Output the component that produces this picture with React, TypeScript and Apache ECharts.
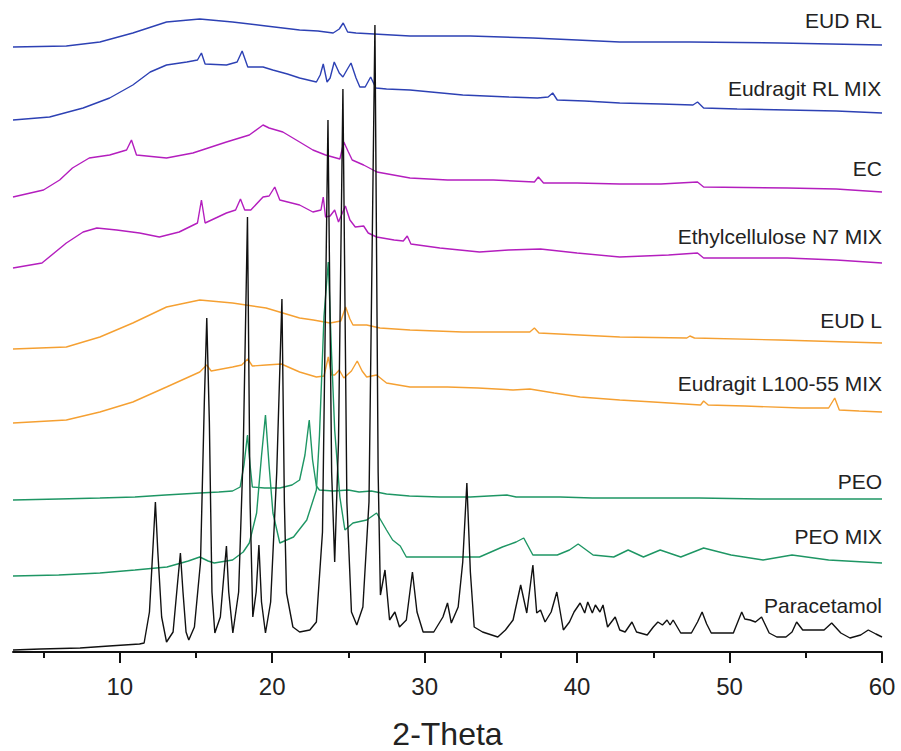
import React, { useEffect, useRef } from "react";
import * as echarts from "echarts";

// 2-Theta tick labels
const majorTicks = [10, 20, 30, 40, 50, 60];
const minorTicks = [5, 15, 25, 35, 45, 55];

const seriesNames = [
  "EUD RL",
  "Eudragit RL MIX",
  "EC",
  "Ethylcellulose N7 MIX",
  "EUD L",
  "Eudragit L100-55 MIX",
  "PEO",
  "PEO MIX",
  "Paracetamol",
];

// vertical stacking offsets (a.u.)
const offsets = [605, 532, 455, 384, 303, 229, 152, 76, 0];

// [2-theta, intensity above offset]
const eudRL = [[3,0],[6.5,1],[8.7,5],[10.86,14],[13.07,25],[15.25,28],[17.4,25],[19.6,21],[21.8,17],[23.0,16],[24.0,14],[24.4,18],[24.66,24],[24.95,15],[25.5,14],[29.04,11],[33,11],[37.1,9],[40,7],[42.8,5],[47.4,5],[53.3,4],[60,2]];

const eudragitRLMix = [[3,0],[5.4,3],[7.6,12],[9.34,22],[10.86,35],[12.0,48],[13.07,55],[14.4,58],[15.1,60],[15.36,67],[15.6,56],[17.0,55],[17.7,58],[18.03,69],[18.4,53],[19.4,53],[20.04,50],[21.0,46],[21.8,42],[22.9,38],[23.15,45],[23.35,56],[23.6,38],[23.8,42],[24.07,58],[24.4,47],[24.64,43],[24.9,50],[25.17,57],[25.5,42],[25.75,33],[26.1,33],[26.46,43],[26.8,32],[27.5,31],[29.04,30],[32.5,25],[35.5,23],[37.4,22],[38.1,23],[38.4,27],[38.7,20],[40.5,19],[42.8,17],[45.5,16],[47.6,15],[47.9,18],[48.3,12],[50.5,11],[53.8,10],[57,9],[60,7]];

const ec = [[3,0],[5,7],[6.06,17],[6.9,29],[8.0,39],[9.34,42],[10.45,47],[10.77,57],[11.1,42],[13.07,39],[14.8,44],[17.0,55],[18.5,62],[19.4,72],[19.8,69],[20.7,65],[21.8,55],[22.67,47],[23.5,42],[24.44,38],[24.7,55],[25.0,45],[25.25,37],[26.0,32],[26.87,25],[29.04,19],[31.5,17],[34.5,17],[37.2,15],[37.46,20],[37.8,14],[40,14],[42.8,13],[45.5,13],[47.9,15],[48.3,10],[53.8,9],[57,8],[60,5]];

const ethylcelluloseMix = [[3,0],[4.9,5],[6.5,25],[7.6,36],[8.5,40],[9.8,38],[11.3,35],[12.6,31],[13.9,36],[15.1,45],[15.36,68],[15.6,45],[17.0,55],[17.6,58],[17.92,69],[18.2,58],[18.6,58],[19.4,71],[19.8,72],[20.17,81],[20.5,68],[21.8,63],[22.67,56],[23.2,58],[23.35,71],[23.5,51],[23.8,52],[24.1,58],[24.35,46],[24.8,62],[25.1,48],[25.45,41],[26.0,42],[26.3,35],[26.85,31],[28.0,28],[28.6,27],[28.86,32],[29.1,24],[31,20],[33.6,16],[35.5,18],[37.6,19],[40,15],[42.8,11],[46,13],[47.9,15],[48.3,10],[50.5,10],[53.8,10],[57,8],[60,5]];

const eudL = [[3,0],[6.5,2],[8.7,12],[10.86,26],[13.07,42],[15.25,49],[17.4,46],[19.6,41],[21.8,31],[22.7,29],[23.8,26],[24.5,28],[24.82,42],[25.1,30],[25.3,24],[26.2,24],[27.07,21],[29.04,19],[32.5,17],[36.9,17],[37.2,21],[37.5,16],[42.8,12],[47.2,11],[47.4,13],[47.7,11],[53.3,9],[60,6]];

const eudragitLMix = [[3,0],[6.5,3],[8.7,11],[10.86,21],[13.07,36],[15.25,51],[15.7,58],[16.0,52],[17.4,56],[18.0,58],[18.4,64],[18.7,57],[19.6,58],[20.6,59],[21.8,51],[22.9,46],[23.4,47],[23.68,66],[23.9,48],[24.1,48],[24.4,53],[24.7,45],[25.2,52],[25.58,62],[25.9,52],[26.2,46],[26.85,48],[27.5,40],[29.04,36],[31.5,36],[33.5,35],[35.8,33],[36.9,34],[38.5,30],[40.2,26],[42.8,23],[45,21],[48.1,18],[48.3,22],[48.6,18],[51,17],[54.7,15],[56.5,15],[56.9,25],[57.2,13],[58.5,12],[60,11]];

const peo = [[3,0],[6,1],[8.7,2],[11,3],[13,5],[15.25,7],[16.5,8],[17.4,9],[17.9,13],[18.15,35],[18.38,65],[18.55,35],[18.7,13],[19.5,12],[20.5,12],[21.3,15],[21.8,20],[22.15,45],[22.43,80],[22.65,40],[22.9,14],[23.1,10],[24,9],[25.0,10],[25.7,8],[26.5,9],[27.5,6],[29,4],[31,3],[33,3],[35.4,5],[36,3],[38.9,3],[41,2],[45,2],[48,2],[52,1],[56,1],[60,1]];

const peoMix = [[3,0],[6,1],[8.7,3],[11,6],[13.1,9],[14.5,15],[15.25,19],[15.8,15],[16.2,13],[17.4,16],[18.1,24],[18.5,33],[18.98,63],[19.3,120],[19.56,161],[19.8,110],[20.05,63],[20.5,33],[21.4,39],[22.27,56],[22.9,86],[23.1,140],[23.4,260],[23.68,314],[23.9,220],[24.1,146],[24.44,79],[24.77,46],[25.3,53],[26.2,56],[26.85,63],[27.5,46],[27.9,36],[28.4,30],[28.8,19],[29.5,19],[31,19],[33.6,19],[35.1,29],[36.0,34],[36.5,38],[37.1,21],[38.7,21],[39.5,26],[40.07,32],[41.05,21],[42.4,19],[43.35,26],[44.35,19],[45.45,26],[46.8,19],[48.3,28],[50.1,21],[52.2,16],[54.1,21],[56.5,16],[60,13]];

const paracetamol = [[3.0,2],[4.8,3],[7.4,4],[9.3,6],[11.3,8],[11.6,9],[11.95,40],[12.2,110],[12.34,150],[12.5,100],[12.75,35],[13.07,10],[13.5,20],[13.8,70],[13.98,99],[14.15,60],[14.35,20],[14.53,12],[14.9,25],[15.3,90],[15.55,250],[15.71,334],[15.88,230],[16.05,60],[16.24,19],[16.6,35],[16.85,80],[17.0,106],[17.15,60],[17.42,19],[17.8,60],[18.1,200],[18.38,435],[18.55,150],[18.73,35],[18.95,60],[19.13,107],[19.3,50],[19.56,19],[19.9,50],[20.3,180],[20.64,353],[20.8,150],[20.94,59],[21.36,25],[21.8,20],[22.47,22],[22.9,30],[23.3,120],[23.66,532],[23.9,180],[24.1,90],[24.35,210],[24.64,563],[24.9,150],[25.2,40],[25.55,27],[25.95,45],[26.35,150],[26.74,627],[26.95,180],[27.1,57],[27.4,82],[27.7,32],[28.05,40],[28.35,25],[28.8,32],[29.2,80],[29.5,40],[29.9,20],[30.6,20],[31.2,35],[31.5,49],[31.75,29],[32.2,45],[32.5,90],[32.77,169],[33.0,80],[33.25,25],[33.8,20],[34.8,15],[35.3,22],[35.8,32],[36.3,67],[36.7,39],[37.1,87],[37.35,39],[37.6,42],[37.9,30],[38.3,40],[38.67,60],[39.1,22],[39.5,30],[39.8,40],[40.2,49],[40.5,39],[40.7,50],[41.0,39],[41.2,47],[41.5,40],[41.7,47],[42.0,25],[42.5,35],[42.8,22],[43.15,20],[43.6,30],[43.9,20],[44.6,17],[45.0,25],[45.3,30],[45.6,27],[45.9,32],[46.1,27],[46.3,32],[46.8,19],[47.5,19],[47.9,30],[48.2,40],[48.5,28],[48.8,19],[50.25,19],[50.8,40],[51.0,33],[51.35,32],[51.7,30],[52.1,35],[52.6,19],[53.1,15],[53.7,15],[54.1,20],[54.4,30],[54.8,22],[55.5,22],[56.2,22],[56.7,29],[57.3,19],[57.9,14],[58.6,17],[59.1,22],[59.6,18],[60,15]];

const seriesData = [eudRL, eudragitRLMix, ec, ethylcelluloseMix, eudL, eudragitLMix, peo, peoMix, paracetamol];

const colors = ["#2d41b4", "#2d41b4", "#b41ebe", "#b41ebe", "#f5a032", "#f5a032", "#1e9664", "#1e9664", "#111111"];

// label vertical positions (pixels from top)
const labelY = [22, 90, 170, 238, 322, 385, 483, 538, 607];

const FONT = "'Liberation Sans', Arial, sans-serif";

export default function App() {
  const ref = useRef<HTMLDivElement>(null);
  useEffect(() => {
    if (!ref.current) return;
    const chart = echarts.init(ref.current, undefined, { renderer: "svg" });
    const series = seriesNames.map((name, i) => ({
      name,
      type: "line",
      data: seriesData[i].map(([x, y]) => [x, y + offsets[i]]),
      showSymbol: false,
      symbol: "none",
      lineStyle: { color: colors[i], width: 1.4 },
      z: i === seriesNames.length - 1 ? 5 : 2,
      silent: true,
    }));
    chart.setOption({
      animation: false,
      backgroundColor: "#ffffff",
      grid: { left: 13, right: 19, top: 10, bottom: 99, containLabel: false, outerBoundsMode: "none" },
      xAxis: [
        {
          type: "value",
          min: 3,
          max: 60,
          position: "bottom",
          axisLine: { show: true, lineStyle: { color: "#111", width: 2 } },
          axisTick: { show: true, customValues: majorTicks, length: 11, lineStyle: { color: "#111", width: 2 } },
          axisLabel: { customValues: majorTicks, fontSize: 24, color: "#222", margin: 22, fontFamily: FONT },
          splitLine: { show: false },
          name: "2-Theta",
          nameLocation: "middle",
          nameGap: 68,
          nameTextStyle: { fontSize: 32, lineHeight: 28, color: "#222", fontFamily: FONT },
        },
        {
          type: "value",
          min: 3,
          max: 60,
          position: "bottom",
          axisLine: { show: false },
          axisTick: { show: true, customValues: minorTicks, length: 6, lineStyle: { color: "#111", width: 2 } },
          axisLabel: { show: false },
          splitLine: { show: false },
        },
      ],
      yAxis: { type: "value", min: 0, max: 642, show: false },
      series,
      graphic: seriesNames.map((name, i) => ({
        type: "text",
        right: 19,
        top: labelY[i] - 12,
        style: { text: name, fontSize: 21, fill: "#222", fontFamily: FONT },
        silent: true,
      })),
    });
    return () => chart.dispose();
  }, []);
  return <div ref={ref} style={{ position: "absolute", left: 0, top: 0, width: 901, height: 751 }} />;
}
